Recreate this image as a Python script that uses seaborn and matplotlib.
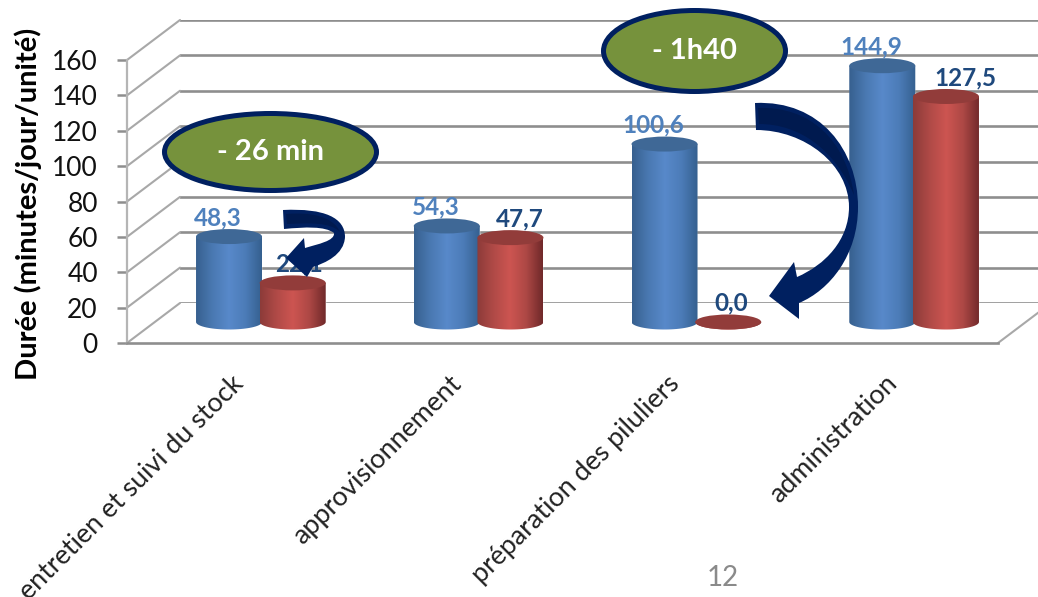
import numpy as np
import pandas as pd
import matplotlib
matplotlib.use("Agg")
import matplotlib.pyplot as plt
from matplotlib.colors import LinearSegmentedColormap
from matplotlib.patches import Ellipse, PathPatch, Polygon
from matplotlib.path import Path
from matplotlib.transforms import ScaledTranslation
import seaborn as sns

# Values
categories = ["entretien et suivi du stock", "approvisionnement",
              "préparation des piluliers", "administration"]
avant = [48.3, 54.3, 100.6, 144.9]
apres = [22.1, 47.7, 0.0, 127.5]
y_ticks = [0, 20, 40, 60, 80, 100, 120, 140, 160]

W, H = 1038, 597
sns.set_style("white")
plt.rcParams["font.family"] = ["Lato", "DejaVu Sans"]

df = pd.DataFrame({
    "tache": categories * 2,
    "duree": avant + apres,
    "periode": ["avant"] * 4 + ["apres"] * 4,
})

fig = plt.figure(figsize=(W / 100, H / 100), dpi=100)


def axes_px(dx=0, dy=0):
    # front plot box is 127-998 px wide, 0 at y=343 and 160 at y=60
    a = fig.add_axes([(127 + dx) / W, 1 - (343 - dy) / H, 871 / W, 283 / H])
    a.set_facecolor("none")
    return a


GRID = "#8e8e8e"

# back wall
ax_back = axes_px(53, 40)
for v in y_ticks:
    ax_back.axhline(v, color=GRID, lw=1.9)
ax_back.set_ylim(0, 160)
ax_back.axis("off")

# front axis with ticks and labels
ax = axes_px()
ax.set_xlim(-0.5, 3.5)
ax.set_ylim(0, 160)
ax.set_yticks(y_ticks)
ax.set_xticks(range(4))
ax.set_xticklabels(categories, rotation=45, ha="right", rotation_mode="anchor",
                   fontsize=19.3, color="#222222")
ax.tick_params(axis="y", length=7, width=1.8, color=GRID, labelsize=19,
               labelcolor="#111111", pad=14, left=True)
ax.tick_params(axis="x", length=0, pad=20)
shift = ScaledTranslation(-5 / 100, 0, fig.dpi_scale_trans)
for lab in ax.get_xticklabels():
    lab.set_transform(lab.get_transform() + shift)
sns.despine(ax=ax, top=True, right=True)
ax.spines["left"].set_color("#b5b5b5")
ax.spines["left"].set_linewidth(1.6)
ax.spines["bottom"].set_color(GRID)
ax.spines["bottom"].set_linewidth(1.9)
ax.set_ylabel("Durée (minutes/jour/unité)", fontsize=21, fontweight="bold",
              color="black", va="center")
ax.yaxis.set_label_coords((28 - 127) / 871, (343 - 204) / 283)

# side wall and floor edges
depth_x, depth_y = 53 / 871 * 4, 40 / 283 * 160
for v in y_ticks:
    ax.plot([-0.5, -0.5 + depth_x], [v, v + depth_y], color="#a8a8a8", lw=1.5,
            clip_on=False)
ax.plot([3.5, 3.5 + depth_x], [0, depth_y], color="#a8a8a8", lw=1.5, clip_on=False)

# cylinders stand in the middle of the floor
ax_bars = axes_px(25, 21)
sns.barplot(data=df, x="tache", y="duree", hue="periode", order=categories,
            hue_order=["avant", "apres"], palette=["#4f81bd", "#c0504d"],
            width=0.585, legend=False, ax=ax_bars)

cmaps = [
    LinearSegmentedColormap.from_list("b", ["#37608f", "#4a79b2", "#5889ca", "#4c7cb8", "#35608f"]),
    LinearSegmentedColormap.from_list("r", ["#8c3b39", "#b04a47", "#cd5551", "#ad4845", "#70292a"]),
]
top_colors = ["#3f6896", "#923c3a"]
label_colors = ["#4f81bd", "#1f497d"]
CAP = 15 / 283 * 160
BAR_W = 66 / 871 * 4

n = len(categories)
for i, bar in enumerate(ax_bars.patches[:2 * n]):
    s = i // n
    cx = bar.get_x() + bar.get_width() / 2
    val = bar.get_height()
    x0, x1 = cx - BAR_W / 2, cx + BAR_W / 2
    z = 3 + i % n * 3 + s * 1.5
    t = np.linspace(np.pi, 2 * np.pi, 40)
    outline = np.vstack([[[x0, val], [x1, val]],
                         np.column_stack([cx + BAR_W / 2 * np.cos(t[::-1]),
                                          CAP / 2 * np.sin(t[::-1])])])
    clip = Polygon(outline, closed=True, transform=ax_bars.transData)
    im = ax_bars.imshow(np.linspace(0, 1, 128)[None, :], cmap=cmaps[s], aspect="auto",
                        extent=[x0, x1, -CAP, max(val, 1)], zorder=z)
    im.set_clip_box(fig.bbox)
    im.set_clip_path(clip)
    ax_bars.add_patch(Ellipse((cx, val), BAR_W, CAP, color=top_colors[s], zorder=z + 0.1,
                              lw=0, clip_on=False))
    # labels drift outwards like in the 3D original
    off = -11 if s == 0 else 3 + val * 0.13
    ax_bars.annotate(f"{val:.1f}".replace(".", ","), (cx, val), xytext=(off * 0.72, 13.5),
                     textcoords="offset points", ha="center", va="center",
                     fontsize=17.5, fontweight="bold", color=label_colors[s], zorder=30)

ax_bars.set_xlim(-0.5, 3.5)
ax_bars.set_ylim(0, 160)
ax_bars.axis("off")

# annotations on top, in pixel units
over = fig.add_axes([0, 0, 1, 1])
over.set_xlim(0, W)
over.set_ylim(H, 0)
over.set_facecolor("none")
over.axis("off")

NAVY = "#002060"
M, C, L = Path.MOVETO, Path.CURVE4, Path.LINETO


def arrow(verts, codes):
    over.add_patch(PathPatch(Path(verts, codes), facecolor=NAVY, edgecolor="none", zorder=5))


# big arrow
arrow([(755, 103), (820, 100), (858, 150), (858, 207), (858, 255), (830, 290), (799, 303),
       (799, 319), (769, 296), (794, 262), (797, 277),
       (825, 265), (849, 240), (849, 207), (849, 165), (805, 130), (756, 130), (755, 103)],
      [M, C, C, C, C, C, C, L, L, L, L, C, C, C, C, C, C, L])
arrow([(758, 108), (810, 106), (846, 140), (854, 195), (835, 150), (800, 124), (759, 124), (758, 108)],
      [M, C, C, C, C, C, C, L])
over.patches[-1].set_facecolor("#001a4f")

# small arrow
arrow([(283, 210), (325, 208), (345, 218), (345, 237), (344, 255), (325, 263), (313, 267),
       (307, 277), (286, 258), (304, 238), (305, 248),
       (318, 244), (335, 241), (334, 233), (325, 226), (305, 227), (284, 229), (283, 210)],
      [M, C, C, C, C, C, C, L, L, L, L, C, C, C, C, C, C, L])
arrow([(286, 214), (310, 212), (333, 216), (340, 232), (330, 222), (310, 223), (287, 224), (286, 214)],
      [M, C, C, C, C, C, C, L])
over.patches[-1].set_facecolor("#001a4f")

for (cx, cy, w, h, txt) in [(270.5, 152, 212, 77, "- 26 min"), (694.5, 51, 182, 81, "- 1h40")]:
    over.add_patch(Ellipse((cx, cy), w, h, facecolor="#76923c", edgecolor=NAVY, lw=3.6, zorder=6))
    over.text(cx, cy, txt, color="white", fontsize=21, fontweight="bold",
              ha="center", va="center", zorder=7)

over.text(723, 578, "12", color="#8a8a8a", fontsize=20, ha="center", va="center")

fig.savefig("out.png", dpi=100)
